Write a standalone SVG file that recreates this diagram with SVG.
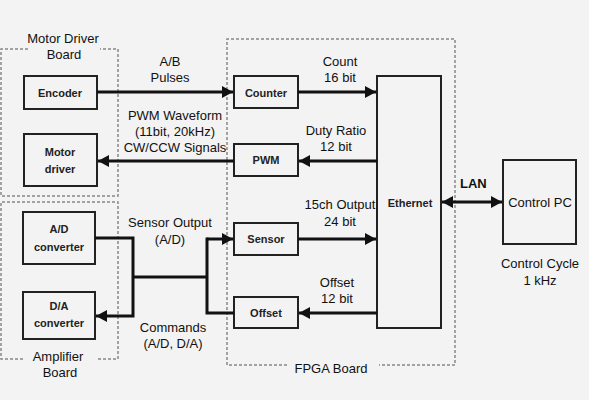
<svg xmlns="http://www.w3.org/2000/svg" width="589" height="400" viewBox="0 0 589 400">
<style>
.bg{fill:#f3f3f3}
.box{fill:none;stroke:#222;stroke-width:2}
.grp{fill:none;stroke:#888;stroke-width:1.5;stroke-dasharray:3,2}
.ln{fill:none;stroke:#111;stroke-width:3}
.lbl{font-family:"Liberation Sans",Arial,sans-serif;font-size:13px;fill:#111;text-anchor:middle}
.nd{font-family:"Liberation Sans",Arial,sans-serif;font-size:11px;font-weight:bold;fill:#222;text-anchor:middle}
.lan{font-family:"Liberation Sans",Arial,sans-serif;font-size:13px;font-weight:bold;fill:#111}
</style>
<defs>
<marker id="ah" markerUnits="userSpaceOnUse" markerWidth="12" markerHeight="12" refX="11" refY="6" orient="auto-start-reverse">
<path d="M0,0 L11,6 L0,12 z" fill="#111"/>
</marker>
</defs>
<rect class="bg" x="0" y="0" width="589" height="400"/>

<g id="motor-driver-board">
<path class="grp" d="M28,49 H1 V196 H118 V49 H100"/>
<text class="lbl" x="63" y="43">Motor Driver</text>
<text class="lbl" x="64" y="59">Board</text>
</g>
<g id="amplifier-board">
<path class="grp" d="M23,359 H1 V202 H118 V359 H97"/>
<text class="lbl" x="58" y="361">Amplifier</text>
<text class="lbl" x="60" y="377">Board</text>
</g>
<g id="fpga-board">
<path class="grp" d="M287,365 H227 V39 H455 V365 H379"/>
<text class="lbl" x="331" y="373">FPGA Board</text>
</g>

<g id="encoder">
<rect class="box" x="24" y="76" width="73" height="33"/>
<text class="nd" x="60" y="97">Encoder</text>
</g>
<g id="motor-driver">
<rect class="box" x="24" y="134" width="73" height="52"/>
<text class="nd" x="60" y="156">Motor</text>
<text class="nd" x="60" y="173">driver</text>
</g>
<g id="ad-converter">
<rect class="box" x="23" y="212" width="72" height="52"/>
<text class="nd" x="59" y="233">A/D</text>
<text class="nd" x="59" y="251">converter</text>
</g>
<g id="da-converter">
<rect class="box" x="23" y="292" width="72" height="47"/>
<text class="nd" x="59" y="310">D/A</text>
<text class="nd" x="59" y="327">converter</text>
</g>
<g id="counter">
<rect class="box" x="234" y="76" width="64" height="32"/>
<text class="nd" x="266" y="97">Counter</text>
</g>
<g id="pwm">
<rect class="box" x="234" y="144" width="64" height="32"/>
<text class="nd" x="266" y="164">PWM</text>
</g>
<g id="sensor">
<rect class="box" x="234" y="223" width="64" height="32"/>
<text class="nd" x="266" y="243">Sensor</text>
</g>
<g id="offset">
<rect class="box" x="234" y="297" width="64" height="31"/>
<text class="nd" x="266" y="317">Offset</text>
</g>
<g id="ethernet">
<rect class="box" x="377" y="76" width="64" height="252"/>
<text class="nd" x="410" y="207">Ethernet</text>
</g>
<g id="control-pc">
<rect class="box" x="503" y="160" width="73" height="84"/>
<text class="lbl" x="540" y="207">Control PC</text>
<text class="lbl" x="540" y="268">Control Cycle</text>
<text class="lbl" x="540" y="285">1 kHz</text>
</g>

<g id="connectors">
<line class="ln" x1="97" y1="92" x2="233" y2="92" marker-end="url(#ah)"/>
<line class="ln" x1="298" y1="92" x2="376" y2="92" marker-end="url(#ah)"/>
<line class="ln" x1="377" y1="161" x2="299" y2="161" marker-end="url(#ah)"/>
<line class="ln" x1="234" y1="161" x2="98" y2="161" marker-end="url(#ah)"/>
<line class="ln" x1="298" y1="239" x2="376" y2="239" marker-end="url(#ah)"/>
<line class="ln" x1="377" y1="313" x2="299" y2="313" marker-end="url(#ah)"/>
<path class="ln" d="M95,238 H133 V316 H96" marker-end="url(#ah)"/>
<line class="ln" x1="133" y1="277" x2="207" y2="277"/>
<path class="ln" d="M207,239 H233" marker-end="url(#ah)"/>
<path class="ln" d="M207,237.5 V313 H234"/>
<line class="ln" x1="442" y1="202" x2="502" y2="202" marker-start="url(#ah)" marker-end="url(#ah)"/>
<text class="lbl" x="170" y="66">A/B</text>
<text class="lbl" x="170" y="82">Pulses</text>
<text class="lbl" x="340" y="66">Count</text>
<text class="lbl" x="340" y="82">16 bit</text>
<text class="lbl" x="336" y="135">Duty Ratio</text>
<text class="lbl" x="336" y="151">12 bit</text>
<text class="lbl" x="175" y="120">PWM Waveform</text>
<text class="lbl" x="175" y="136">(11bit, 20kHz)</text>
<text class="lbl" x="175" y="152">CW/CCW Signals</text>
<text class="lbl" x="340" y="209">15ch Output</text>
<text class="lbl" x="340" y="226">24 bit</text>
<text class="lbl" x="337" y="287">Offset</text>
<text class="lbl" x="337" y="303">12 bit</text>
<text class="lbl" x="170" y="227">Sensor Output</text>
<text class="lbl" x="170" y="244">(A/D)</text>
<text class="lbl" x="173" y="332">Commands</text>
<text class="lbl" x="173" y="348">(A/D, D/A)</text>
<text class="lan" x="460" y="188">LAN</text>
</g>
</svg>
